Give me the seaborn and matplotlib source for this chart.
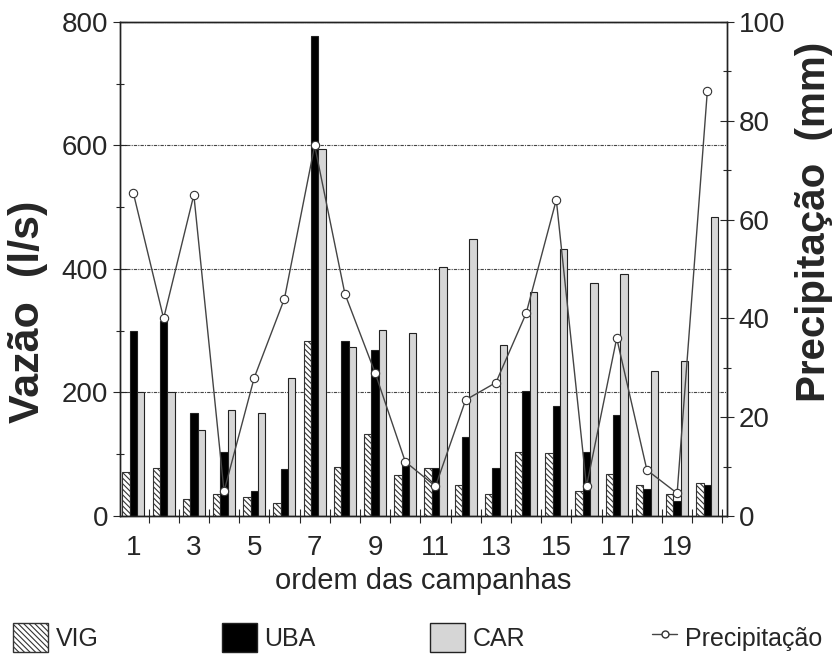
import numpy as np
import pandas as pd
import seaborn as sns
import matplotlib.pyplot as plt
from matplotlib.patches import Patch
from matplotlib.lines import Line2D
from matplotlib.ticker import FixedLocator, MultipleLocator

# valores
campanhas = list(range(1, 21))
vig = [71, 77, 28, 36, 31, 21, 284, 80, 132, 67, 78, 51, 35, 104, 102, 40, 68, 50, 36, 53]
uba = [300, 316, 166, 104, 40, 76, 778, 283, 269, 88, 78, 128, 78, 202, 178, 103, 163, 43, 24, 51]
car = [200, 200, 140, 172, 166, 224, 594, 274, 301, 296, 403, 448, 277, 363, 432, 378, 392, 235, 251, 484]
precip = [65.3, 40, 65, 5, 28, 44, 75, 45, 29, 11, 6, 23.5, 27, 41, 64, 6, 36, 9.3, 4.6, 86]
series = ['VIG', 'UBA', 'CAR']
xtick_labels = [str(c) for c in campanhas if c % 2 == 1]

sns.set_style('ticks')
plt.rcParams['font.family'] = ['Liberation Sans', 'DejaVu Sans']
plt.rcParams['hatch.linewidth'] = 0.8

df = pd.DataFrame({
    'campanha': campanhas * 3,
    'serie': ['VIG'] * 20 + ['UBA'] * 20 + ['CAR'] * 20,
    'vazao': vig + uba + car,
})

fig = plt.figure(figsize=(8.38, 6.57), dpi=100)
ax = fig.add_axes([0.143, 0.2146, 0.7245, 0.752])

sns.barplot(data=df, x='campanha', y='vazao', hue='serie', hue_order=series,
            palette=['white', 'black', '#d6d6d6'], width=0.73, saturation=1,
            edgecolor='#222222', linewidth=0.8, legend=False, ax=ax)
for bar in ax.containers[0]:
    bar.set_hatch('\\\\\\\\\\\\')
    bar.set_edgecolor('#333333')

ax.set_ylim(0, 800)
ax.set_yticks(range(0, 801, 200))
ax.yaxis.set_minor_locator(MultipleLocator(100))
ax.grid(axis='y', ls=(0, (3, 1, 1, 1)), color='#444444', lw=0.8)
ax.set_axisbelow(True)

ax2 = ax.twinx()
sns.lineplot(x=np.arange(20), y=precip, ax=ax2, color='#444444', lw=1,
             marker='o', markersize=6, markerfacecolor='white',
             markeredgecolor='#333333', markeredgewidth=0.8)
ax2.set_ylim(0, 100)
ax2.set_yticks(range(0, 101, 20))
ax2.yaxis.set_minor_locator(MultipleLocator(10))

ax.set_xlim(-0.45, 19.65)
ax.set_xticks(range(0, 20, 2))
ax.set_xticklabels(xtick_labels)
ax.xaxis.set_minor_locator(FixedLocator(np.arange(-0.5, 19.6, 1)))
ax.tick_params(axis='x', which='major', length=0, labelsize=20, pad=14)
ax.tick_params(axis='x', which='minor', length=10, direction='inout', width=0.8)
ax.tick_params(axis='y', which='both', direction='inout', width=0.8, labelsize=20)
ax.tick_params(axis='y', which='major', length=10)
ax.tick_params(axis='y', which='minor', length=6)
ax2.tick_params(axis='y', which='both', direction='inout', width=0.8, labelsize=20)
ax2.tick_params(axis='y', which='major', length=10)
ax2.tick_params(axis='y', which='minor', length=6)

for a in (ax, ax2):
    for s in a.spines.values():
        s.set_linewidth(1)
        s.set_color('#222222')

ax.set_xlabel('ordem das campanhas', fontsize=21, labelpad=4)
ax.set_ylabel('Vazão  (l/s)', fontsize=31, fontweight='bold')
ax2.set_ylabel('Precipitação  (mm)', fontsize=29, fontweight='bold')
ax.yaxis.set_label_coords(-0.118, 0.413)
ax2.yaxis.set_label_coords(1.112, 0.595)

handles = [
    Patch(facecolor='white', edgecolor='#333333', hatch='\\\\\\\\\\\\', label='VIG'),
    Patch(facecolor='black', edgecolor='#222222', label='UBA'),
    Patch(facecolor='#d6d6d6', edgecolor='#222222', label='CAR'),
    Line2D([], [], color='#444444', lw=1, marker='o', markersize=5,
           markerfacecolor='white', markeredgecolor='#333333', label='Precipitação'),
]
xpos = [13, 222, 430, 652]
hlen = [1.4, 1.4, 1.4, 1.0]
for h, x, hl in zip(handles, xpos, hlen):
    fig.legend(handles=[h], loc='center left', bbox_to_anchor=(x / 838, 0.03),
               frameon=False, fontsize=18, handlelength=hl, handleheight=1.4,
               handletextpad=0.3, borderpad=0, borderaxespad=0)

fig.savefig('out.png', dpi=100)
